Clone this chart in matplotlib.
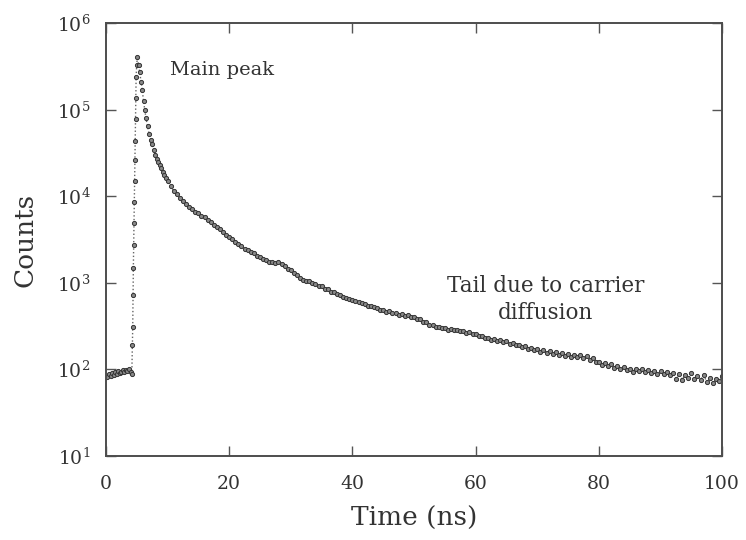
import math
import matplotlib
matplotlib.use("Agg")
import matplotlib.pyplot as plt
from matplotlib.ticker import LogLocator, NullLocator, FuncFormatter

plt.rcParams["font.family"] = ["DejaVu Serif"]

# baseline before the laser pulse
t_base = [0.25, 0.5, 0.75, 1.0, 1.25, 1.5, 1.75, 2.0, 2.25, 2.5, 2.75, 3.0,
          3.25, 3.5, 3.75, 4.0, 4.2]
c_base = [82, 88, 84, 90, 86, 92, 88, 95, 90, 93, 97, 92, 98, 95, 100, 92, 88]

# rising edge and main peak
t_rise = [4.30, 4.35, 4.40, 4.45, 4.50, 4.55, 4.60, 4.65, 4.70, 4.75, 4.80,
          4.85, 4.90, 5.00, 5.10]
c_rise = [190, 310, 720, 1500, 2700, 4900, 8600, 15000, 26000, 44000, 79000,
          135000, 240000, 330000, 410000]

# fast decay
t_fall = [5.3, 5.5, 5.7, 5.9, 6.1, 6.3, 6.5, 6.75, 7.0, 7.25, 7.5, 7.75, 8.0,
          8.25, 8.5, 8.75, 9.0, 9.25, 9.5, 9.75]
c_fall = [330000, 270000, 210000, 170000, 125000, 100000, 80000, 64000, 53000,
          45000, 40000, 34000, 30000, 27000, 25000, 23000, 21000, 19000, 17800,
          16300]

# slow tail (carrier diffusion), every 0.5 ns from 10 ns
t_tail = [10 + 0.5 * i for i in range(181)]
c_tail = [
    15000, 13300, 11500, 10500, 9500, 8800, 8200, 7500, 7150, 6650,   # 10-14.5
    6450, 5950, 5750, 5350, 5050, 4650, 4450, 4150, 3900, 3520,       # 15-19.5
    3420, 3180, 2980, 2780, 2680, 2480, 2400, 2280, 2200, 2060,       # 20-24.5
    2010, 1880, 1840, 1750, 1740, 1710, 1720, 1650, 1560, 1450,       # 25-29.5
    1390, 1280, 1240, 1130, 1090, 1040, 1040, 990, 970, 920,          # 30-34.5
    915, 850, 840, 790, 780, 740, 720, 685, 675, 645,                 # 35-39.5
    635, 610, 605, 580, 575, 545, 540, 520, 510, 490,                 # 40-44.5
    490, 465, 468, 445, 445, 425, 432, 418, 424, 405,                 # 45-49.5
    402, 385, 382, 352, 350, 325, 322, 308, 308, 297,                 # 50-54.5
    300, 288, 294, 283, 288, 276, 276, 265, 266, 254,                 # 55-59.5
    256, 243, 242, 230, 232, 220, 224, 213, 218, 206,                 # 60-64.5
    210, 198, 202, 189, 192, 180, 186, 172, 178, 165,                 # 65-69.5
    170, 160, 166, 156, 162, 152, 158, 148, 154, 144,                 # 70-74.5
    150, 140, 148, 137, 146, 134, 141, 128, 136, 122,                 # 75-79.5
    120, 113, 118, 108, 114, 104, 109, 100, 106, 97,                  # 80-84.5
    102, 94, 101, 96, 100, 92, 98, 90, 96, 89,                        # 85-89.5
    95, 88, 93, 86, 90, 78, 88, 76, 86, 80,                           # 90-94.5
    90, 78, 84, 76, 85, 72, 80, 70, 78, 74,                           # 95-99.5
    84,                                                               # 100
]

t_ns = t_base + t_rise + t_fall + t_tail
counts = c_base + c_rise + c_fall + c_tail

fig = plt.figure(figsize=(7.46, 5.4), dpi=100)
ax = fig.add_axes([0.142, 0.156, 0.826, 0.801])

ax.plot(t_ns, counts, linestyle=":", color="#666666", linewidth=1.0,
        marker="o", markersize=3.0, markerfacecolor="#888888",
        markeredgecolor="#333333", markeredgewidth=0.7)

ax.set_yscale("log")
ax.set_xlim(0, 100)
ax.set_ylim(10, 1e6)
ax.set_xticks([0, 20, 40, 60, 80, 100])
ax.yaxis.set_major_locator(LogLocator(base=10, numticks=10))
ax.yaxis.set_minor_locator(NullLocator())
ax.yaxis.set_major_formatter(
    FuncFormatter(lambda v, p: r"$\mathregular{10^{%d}}$" % round(math.log10(v))))

ax.tick_params(axis="both", which="major", direction="in", length=7, width=1.0,
               color="#555555", top=True, right=True, labelsize=13.5,
               labelcolor="#333333")
ax.tick_params(axis="y", pad=11)
ax.tick_params(axis="x", pad=14)

for s in ax.spines.values():
    s.set_color("#4d4d4d")
    s.set_linewidth(1.4)

ax.set_xlabel("Time (ns)", fontsize=19, color="#333333", labelpad=9)
ax.set_ylabel("Counts", fontsize=19, color="#333333", labelpad=14)

ax.text(10.4, 2.9e5, "Main peak", fontsize=14, color="#333333",
        ha="left", va="center")
ax.text(71.3, 640, "Tail due to carrier\ndiffusion", fontsize=15.5,
        color="#333333", ha="center", va="center", linespacing=1.3)

fig.savefig("out.png", dpi=100)
